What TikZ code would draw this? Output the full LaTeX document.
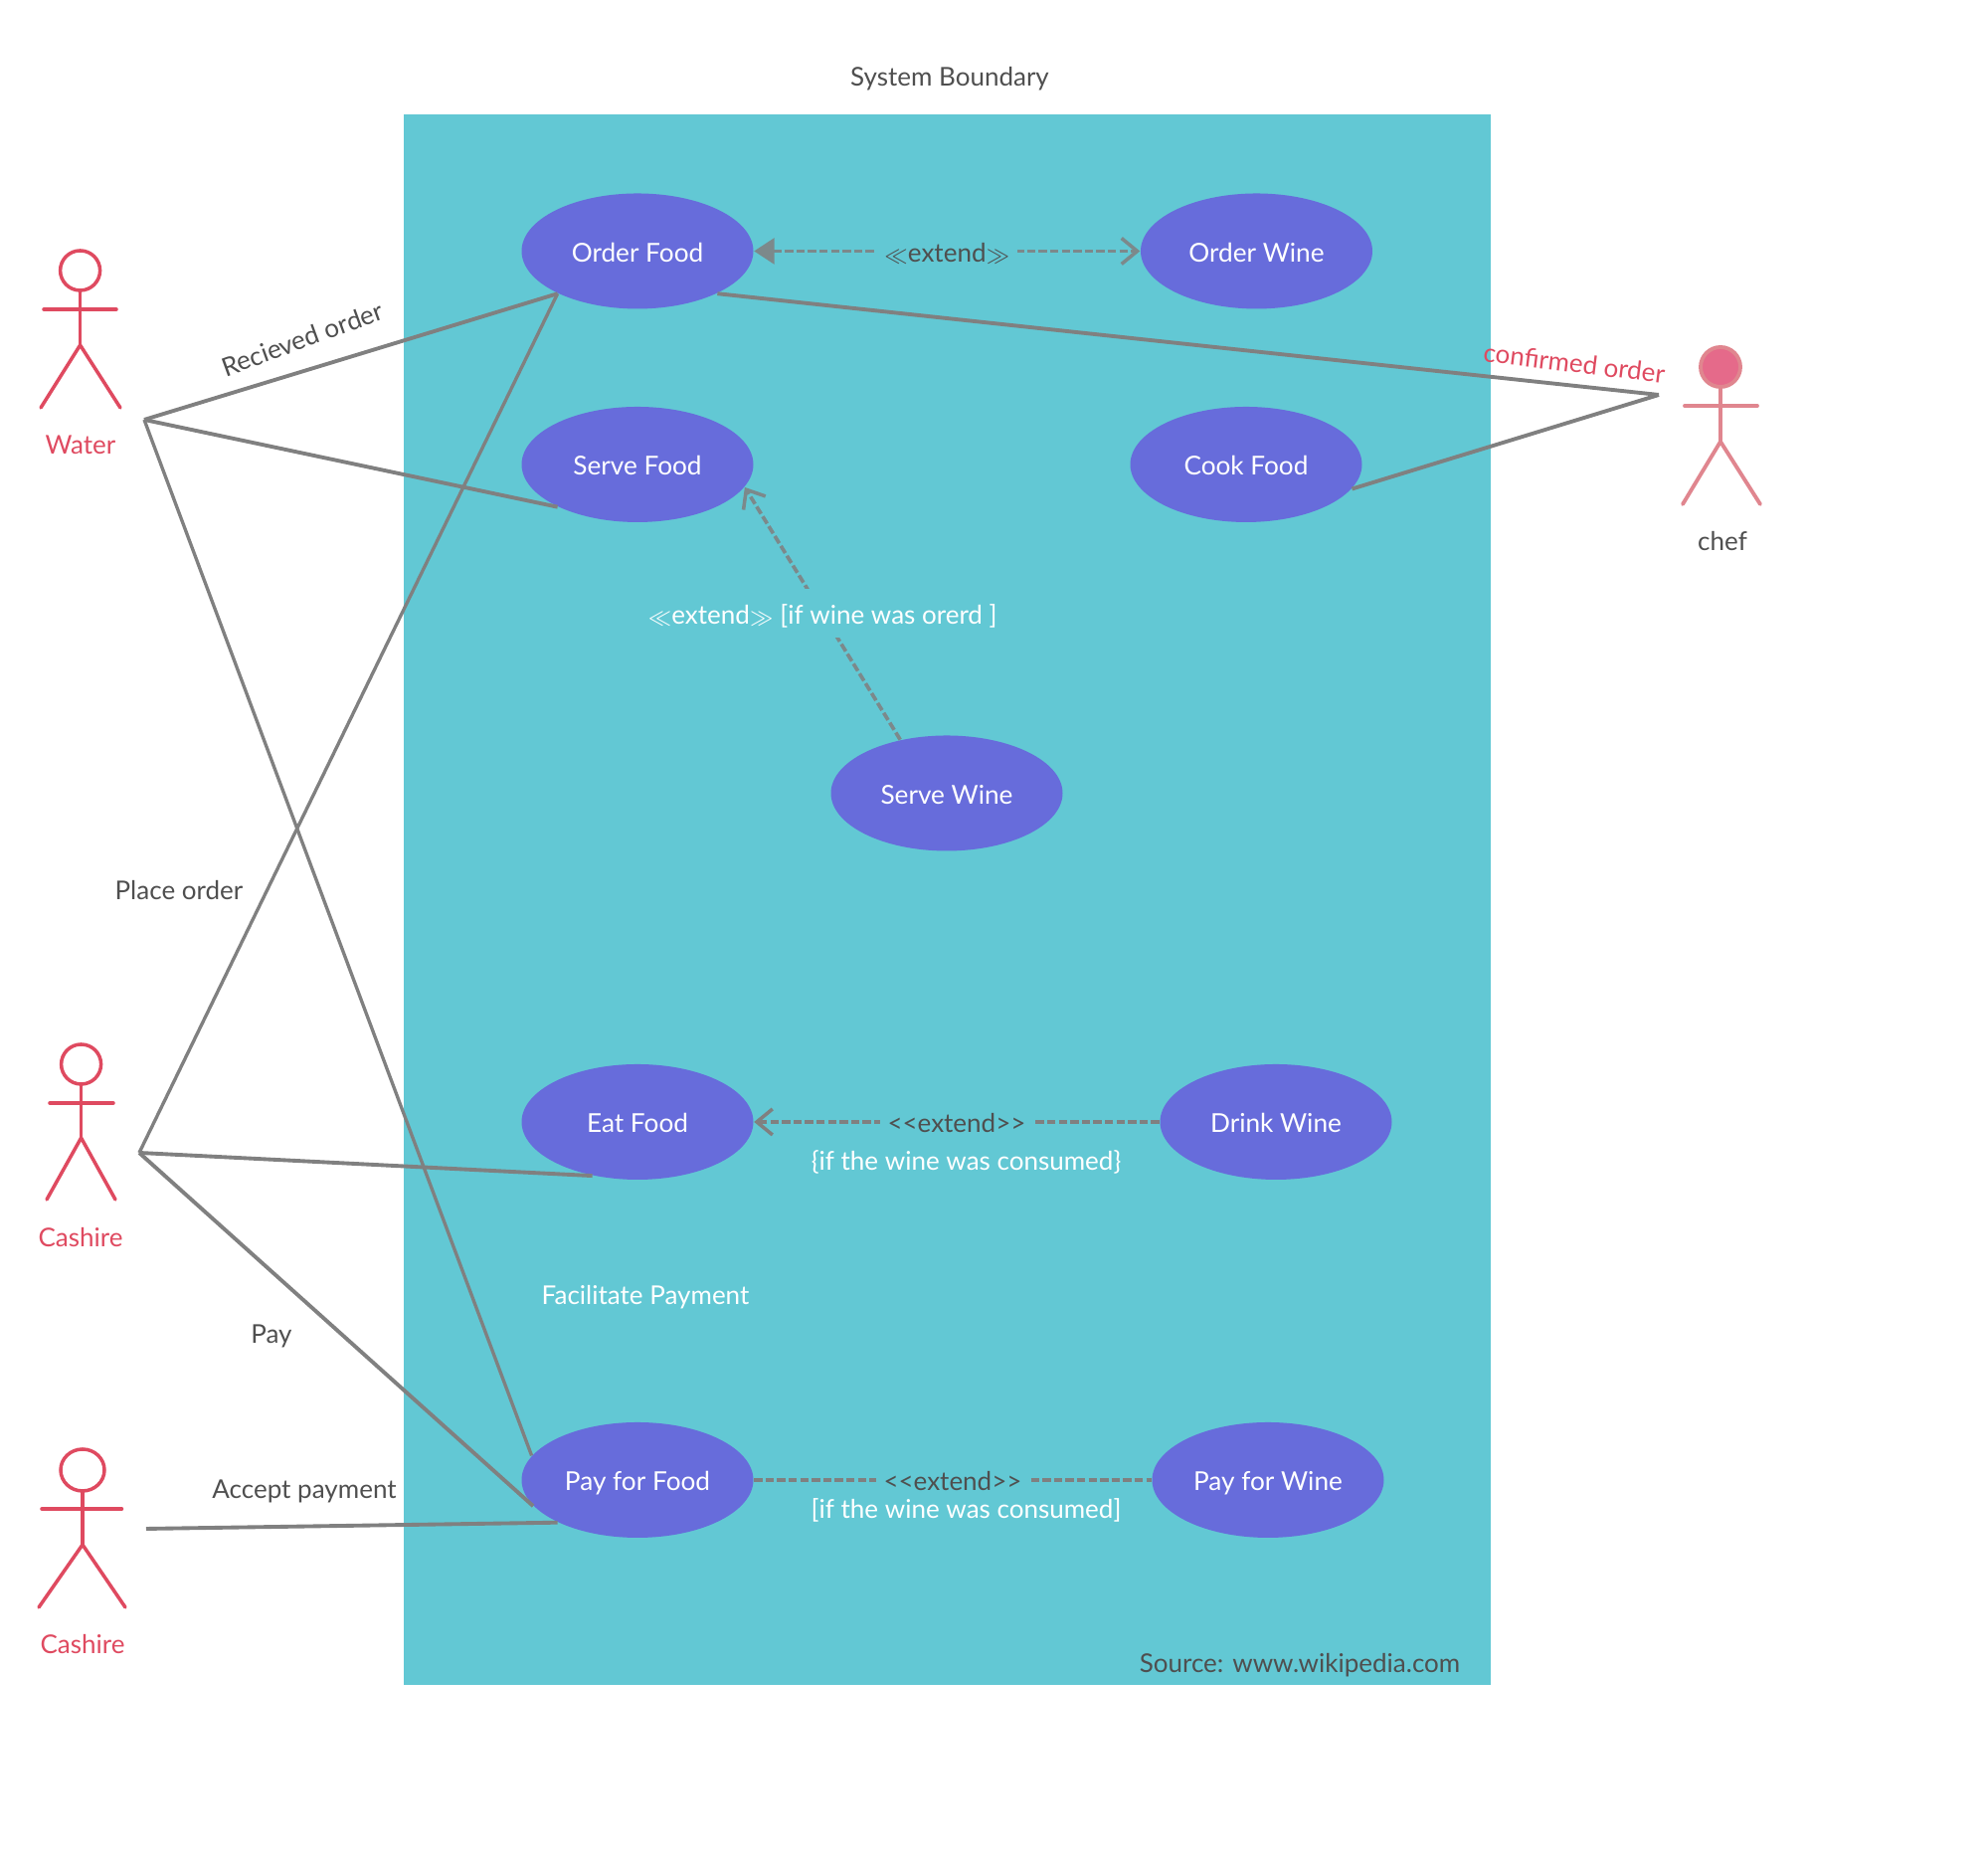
\documentclass[tikz,border=0pt]{standalone}
\usepackage{fontspec}
\setmainfont{Lato}
\usetikzlibrary{shapes.geometric,arrows.meta}

\definecolor{boundcol}{HTML}{62C8D4}
\definecolor{casecol}{HTML}{676CDB}
\definecolor{linecol}{HTML}{808080}
\definecolor{extendcol}{HTML}{7C898B}
\definecolor{actorcol}{HTML}{DF4A60}
\definecolor{chefcol}{HTML}{E0868F}
\definecolor{chefhead}{HTML}{E56A8A}
\definecolor{textcol}{HTML}{4F4F4F}

\newcommand{\llmark}{\scalebox{.85}{$\ll$}}
\newcommand{\ggmark}{\scalebox{.85}{$\gg$}}

\tikzset{
  usecase/.style={ellipse,fill=casecol,text=white,minimum width=2.33cm,minimum height=1.16cm,inner sep=0pt,text height=7pt,text depth=0.9pt,font=\fontsize{7.45}{9}\selectfont},
  link/.style={draw=linecol,line width=1.1pt},
  extendlink/.style={line width=1.05pt,dash pattern=on 2.4pt off 0.9pt},
  opentip/.style={-{Straight Barb[length=4.5pt,width=7.4pt,line width=1pt]}},
  extendlabel/.style={fill=boundcol,text=textcol,inner xsep=2.2pt,inner ysep=1.5pt,text height=7pt,text depth=0.9pt,font=\fontsize{7.4}{9}\selectfont},
  plainlabel/.style={text=textcol,font=\fontsize{7.4}{9}\selectfont},
  whitelabel/.style={text=white,font=\fontsize{7.4}{9}\selectfont},
  redlabel/.style={text=actorcol,font=\fontsize{7.4}{9}\selectfont},
  actor/.style={draw=actorcol,line width=1pt,line cap=round},
  chefactor/.style={draw=chefcol,line width=1.1pt,line cap=round}
}

\begin{document}
\begin{tikzpicture}
        \useasboundingbox (0,0) rectangle (19.99,18.68);

        \fill[boundcol] (4.055,1.74) rectangle (14.99,17.53);
        \node[plainlabel] (boundary) at (9.55,17.89) {System Boundary};

        \node[usecase] (orderfood) at (6.41,16.155) {Order Food};
        \node[usecase] (orderwine) at (12.635,16.155) {Order Wine};
        \node[usecase] (servefood) at (6.41,14.01) {Serve Food};
        \node[usecase] (cookfood) at (12.53,14.01) {Cook Food};
        \node[usecase] (servewine) at (9.52,10.705) {Serve Wine};
        \node[usecase] (eatfood) at (6.41,7.40) {Eat Food};
        \node[usecase] (drinkwine) at (12.83,7.40) {Drink Wine};
        \node[usecase] (payfood) at (6.41,3.80) {Pay for Food};
        \node[usecase] (paywine) at (12.75,3.80) {Pay for Wine};

        % actors
        \begin{scope}
        \draw[actor] (0.806,15.96) circle (0.2cm);
        \draw[actor] (0.806,15.76) -- (0.806,15.21);
        \draw[actor] (0.44,15.57) -- (1.17,15.57);
        \draw[actor] (0.41,14.58) -- (0.806,15.21) -- (1.21,14.58);
        \node[redlabel] (water) at (0.81,14.21) {Water};
        \end{scope}

        \begin{scope}
        \draw[actor] (0.816,7.98) circle (0.2cm);
        \draw[actor] (0.816,7.78) -- (0.816,7.24);
        \draw[actor] (0.50,7.59) -- (1.14,7.59);
        \draw[actor] (0.47,6.62) -- (0.816,7.24) -- (1.16,6.62);
        \node[redlabel] (cashire) at (0.81,6.24) {Cashire};
        \end{scope}

        \begin{scope}
        \draw[actor] (0.83,3.90) ellipse (0.22cm and 0.21cm);
        \draw[actor] (0.83,3.69) -- (0.83,3.15);
        \draw[actor] (0.42,3.51) -- (1.225,3.51);
        \draw[actor] (0.39,2.52) -- (0.83,3.15) -- (1.26,2.52);
        \node[redlabel] (cashiretwo) at (0.83,2.15) {Cashire};
        \end{scope}

        \begin{scope}
        \fill[chefhead,draw=chefcol,line width=1.1pt] (17.30,14.99) circle (0.2cm);
        \draw[chefactor] (17.30,14.79) -- (17.30,14.24);
        \draw[chefactor] (16.94,14.60) -- (17.67,14.60);
        \draw[chefactor] (16.92,13.61) -- (17.30,14.24) -- (17.70,13.61);
        \node[plainlabel] (chef) at (17.32,13.24) {chef};
        \end{scope}

        % free ends of the links
        \coordinate (waterjoin) at (1.45,14.46);
        \coordinate (cashjoin) at (1.40,7.09);
        \coordinate (chefjoin) at (16.68,14.71);
        \coordinate (acceptend) at (1.47,3.31);

        \draw[link] (waterjoin) -- (orderfood.208);
        \draw[link] (waterjoin) -- (servefood.208);
        \draw[link,line width=0.95pt] (waterjoin) -- (payfood.167);
        \draw[link,line width=0.95pt] (cashjoin) -- (orderfood.208);
        \draw[link] (cashjoin) -- (eatfood.230);
        \draw[link] (cashjoin) -- (payfood.194);
        \draw[link] (acceptend) -- (payfood.208);
        \draw[link] (orderfood.332) -- (chefjoin);
        \draw[link] (cookfood.347) -- (chefjoin);

        % extend links
        \draw[extendlink,draw=extendcol,{Triangle[length=5.8pt,width=7.3pt,fill=extendcol]}-{Straight Barb[length=4.5pt,width=7.4pt,line width=1pt]}] (orderfood) -- node[extendlabel,midway]{\llmark extend\ggmark} (orderwine);
        \draw[extendlink,draw=extendcol,opentip] (servewine.131) -- node[extendlabel,midway,inner ysep=3pt,text=white]{\llmark extend\ggmark{} [if wine was orerd ]} (servefood.-12.6);
        \draw[extendlink,draw=linecol,opentip] (drinkwine) -- node[extendlabel,midway]{<\kern0pt<extend>\kern0pt>} (eatfood);
        \draw[extendlink,draw=linecol] (payfood) -- node[extendlabel,midway]{<\kern0pt<extend>\kern0pt>} (paywine);

        % other labels
        \node[plainlabel,rotate=20] (received) at (3.04,15.27) {Recieved order};
        \node[redlabel,rotate=-7] (confirmed) at (15.83,15.03) {confirmed order};
        \node[plainlabel] (placeorder) at (1.80,9.73) {Place order};
        \node[plainlabel] (pay) at (2.73,5.25) {Pay};
        \node[plainlabel] (accept) at (3.06,3.69) {Accept payment};
        \node[whitelabel] (facilitate) at (6.49,5.64) {Facilitate Payment};
        \node[whitelabel] (ifconsumed) at (9.715,7.00) {\{if the wine was consumed\}};
        \node[whitelabel] (ifconsumedtwo) at (9.715,3.50) {[if the wine was consumed]};
        \node[plainlabel] (source) at (13.07,1.94) {Source: www.wikipedia.com};
\end{tikzpicture}
\end{document}
